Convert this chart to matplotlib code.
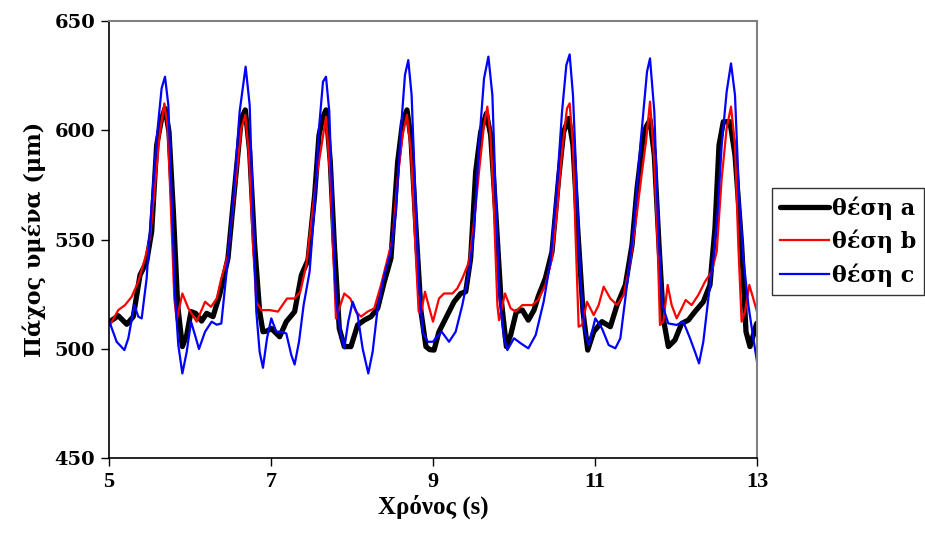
import matplotlib

matplotlib.use("Agg")
import matplotlib.pyplot as plt

# θέση a (black, thick)
time_a = [5.01, 5.115, 5.22, 5.30, 5.383, 5.465, 5.527, 5.589, 5.65, 5.692, 5.741, 5.795, 5.848, 5.906,
          5.96, 6.013, 6.07, 6.144, 6.206, 6.284, 6.366, 6.469, 6.551, 6.634, 6.683, 6.737, 6.798, 6.86,
          6.901, 6.951, 7.004, 7.107, 7.189, 7.292, 7.375, 7.457, 7.539, 7.593, 7.642, 7.679, 7.732,
          7.782, 7.843, 7.905, 7.987, 8.07, 8.152, 8.234, 8.317, 8.399, 8.481, 8.564, 8.625, 8.679,
          8.728, 8.79, 8.852, 8.913, 8.96, 9.013, 9.074, 9.177, 9.26, 9.342, 9.404, 9.465, 9.527, 9.589,
          9.659, 9.712, 9.774, 9.836, 9.906, 9.959, 10.029, 10.103, 10.177, 10.247, 10.30, 10.387,
          10.469, 10.551, 10.613, 10.675, 10.728, 10.786, 10.852, 10.91, 10.984, 11.086, 11.189,
          11.272, 11.375, 11.457, 11.519, 11.593, 11.63, 11.679, 11.732, 11.79, 11.843, 11.905, 11.987,
          12.07, 12.152, 12.234, 12.337, 12.419, 12.481, 12.531, 12.584, 12.666, 12.728, 12.81, 12.864,
          12.913, 12.996]
thick_a = [512.4, 515.1, 511.2, 514.7, 533.7, 539.8, 553.6, 593.2, 605.4, 610.0, 599.3, 562.7, 520.0,
           501.0, 506.3, 517.0, 516.2, 512.7, 516.2, 514.7, 524.6, 541.4, 573.4, 605.4, 609.3, 590.2,
           547.5, 517.0, 507.8, 508.1, 509.3, 505.5, 512.4, 517.0, 533.7, 540.6, 570.3, 597.8, 606.0,
           609.3, 585.6, 547.5, 509.3, 501.0, 501.0, 510.9, 513.1, 514.7, 518.5, 530.7, 541.4, 585.6,
           603.9, 609.3, 596.3, 555.1, 517.0, 501.0, 499.6, 499.4, 507.8, 515.4, 521.5, 525.3, 526.1,
           541.4, 581.0, 599.3, 607.7, 597.8, 562.7, 524.6, 501.0, 506.3, 517.0, 517.7, 513.1, 517.7,
           524.0, 532.2, 544.4, 578.0, 599.3, 605.4, 593.2, 555.1, 517.0, 499.4, 507.8, 512.4, 510.1,
           520.0, 529.2, 547.5, 573.4, 596.3, 601.5, 604.7, 588.7, 547.5, 513.9, 501.0, 504.0, 511.6,
           513.1, 517.0, 521.5, 529.2, 555.1, 593.2, 603.9, 603.9, 588.7, 547.5, 507.8, 501.0, 511.6]

# θέση b (red)
time_b = [5.013, 5.115, 5.198, 5.28, 5.362, 5.445, 5.507, 5.568, 5.63, 5.684, 5.725, 5.766, 5.807,
          5.836, 5.906, 5.98, 6.083, 6.186, 6.26, 6.33, 6.387, 6.469, 6.551, 6.634, 6.683, 6.728,
          6.778, 6.819, 6.881, 6.984, 7.086, 7.198, 7.292, 7.362, 7.436, 7.498, 7.56, 7.62, 7.679,
          7.732, 7.773, 7.802, 7.843, 7.905, 7.979, 8.049, 8.111, 8.193, 8.275, 8.358, 8.44, 8.502,
          8.564, 8.625, 8.679, 8.728, 8.782, 8.823, 8.852, 8.901, 8.955, 9.0, 9.074, 9.136, 9.239,
          9.3, 9.362, 9.445, 9.507, 9.568, 9.63, 9.671, 9.712, 9.753, 9.795, 9.815, 9.889, 9.959,
          10.021, 10.103, 10.227, 10.30, 10.387, 10.469, 10.531, 10.593, 10.654, 10.687, 10.728,
          10.757, 10.798, 10.84, 10.901, 10.984, 11.045, 11.107, 11.189, 11.272, 11.354, 11.436,
          11.519, 11.58, 11.63, 11.679, 11.732, 11.773, 11.802, 11.843, 11.897, 11.946, 12.008,
          12.07, 12.119, 12.193, 12.275, 12.358, 12.44, 12.502, 12.564, 12.625, 12.679, 12.728,
          12.769, 12.81, 12.852, 12.905, 12.954, 13.0]
thick_b = [510.9, 517.7, 520.0, 523.8, 530.7, 541.4, 550.5, 574.9, 599.3, 612.3, 600.9, 562.7, 523.0,
           513.1, 525.3, 518.5, 512.4, 521.5, 519.2, 523.0, 532.2, 542.9, 571.9, 600.9, 607.0, 588.7,
           547.5, 521.5, 517.7, 517.7, 517.0, 523.0, 523.0, 526.1, 538.3, 558.1, 578.0, 592.0, 606.2,
           578.0, 539.8, 513.9, 518.5, 525.3, 523.0, 517.0, 514.7, 517.0, 518.5, 529.2, 541.4, 550.5,
           578.0, 597.8, 607.0, 590.2, 547.5, 517.0, 516.2, 526.1, 518.5, 512.4, 523.0, 525.3, 525.3,
           527.6, 532.2, 539.8, 558.1, 581.0, 602.4, 610.8, 596.3, 562.7, 520.0, 513.1, 525.3, 518.5,
           517.0, 520.0, 520.0, 522.5, 529.2, 541.4, 562.7, 590.2, 610.0, 612.3, 593.2, 555.1, 510.1,
           510.9, 521.5, 515.4, 520.0, 528.4, 523.0, 520.0, 524.6, 539.8, 562.7, 581.0, 595.0, 613.1,
           585.6, 547.5, 510.9, 512.4, 529.2, 520.0, 513.9, 518.5, 522.3, 520.0, 524.6, 530.7, 535.3,
           544.4, 578.0, 600.9, 610.8, 593.2, 547.5, 512.4, 517.0, 529.2, 523.0, 517.0]

# θέση c (blue)
time_c = [5.013, 5.095, 5.19, 5.239, 5.313, 5.362, 5.404, 5.465, 5.527, 5.589, 5.65, 5.692, 5.733,
          5.774, 5.815, 5.856, 5.906, 5.96, 6.013, 6.062, 6.111, 6.186, 6.268, 6.33, 6.387, 6.469,
          6.539, 6.613, 6.687, 6.737, 6.778, 6.819, 6.86, 6.901, 6.951, 7.004, 7.066, 7.128, 7.189,
          7.251, 7.292, 7.346, 7.403, 7.477, 7.539, 7.593, 7.642, 7.679, 7.72, 7.761, 7.802, 7.856,
          7.905, 7.954, 8.008, 8.07, 8.131, 8.201, 8.255, 8.317, 8.399, 8.481, 8.543, 8.605, 8.654,
          8.695, 8.736, 8.782, 8.823, 8.872, 8.934, 9.0, 9.033, 9.107, 9.198, 9.28, 9.362, 9.445,
          9.507, 9.568, 9.63, 9.684, 9.733, 9.774, 9.823, 9.877, 9.918, 10.0, 10.083, 10.177, 10.268,
          10.366, 10.449, 10.531, 10.593, 10.646, 10.687, 10.728, 10.77, 10.819, 10.868, 10.922,
          11.004, 11.086, 11.169, 11.251, 11.313, 11.395, 11.477, 11.56, 11.642, 11.679, 11.732,
          11.781, 11.831, 11.905, 12.008, 12.09, 12.173, 12.234, 12.284, 12.337, 12.399, 12.461,
          12.514, 12.564, 12.625, 12.679, 12.728, 12.778, 12.831, 12.893, 12.954, 13.0]
thick_c = [511.6, 503.2, 499.4, 504.8, 520.0, 514.7, 513.9, 532.2, 565.8, 596.3, 619.2, 624.5, 611.5,
           570.3, 524.6, 501.7, 488.7, 498.6, 512.4, 506.3, 499.9, 507.8, 512.4, 511.0, 511.6, 541.4,
           570.3, 608.5, 629.1, 611.5, 562.7, 517.0, 498.6, 491.3, 504.8, 513.9, 507.8, 507.8, 507.0,
           497.1, 492.8, 503.2, 520.0, 535.3, 565.8, 600.9, 622.2, 624.5, 608.5, 562.7, 523.0, 507.8,
           500.2, 512.4, 521.5, 515.4, 500.2, 488.7, 498.6, 518.5, 533.7, 544.4, 562.7, 600.9, 625.3,
           632.1, 616.1, 570.3, 532.2, 507.8, 503.2, 503.2, 504.8, 507.8, 503.2, 507.8, 520.0, 535.3,
           553.6, 593.2, 623.7, 633.7, 616.1, 570.3, 523.0, 504.8, 499.4, 504.8, 502.5, 500.2, 506.3,
           521.5, 539.8, 574.9, 608.5, 629.8, 634.7, 616.1, 578.0, 532.2, 509.3, 501.7, 513.9, 509.3,
           501.7, 500.2, 504.8, 529.2, 555.1, 593.2, 626.8, 632.9, 608.5, 555.1, 520.0, 511.6, 510.9,
           512.4, 504.8, 498.6, 493.3, 503.2, 523.0, 541.4, 562.7, 593.2, 617.6, 630.6, 616.1, 570.3,
           541.4, 520.0, 504.8, 494.1]

labels = ["θέση a", "θέση b", "θέση c"]
x_ticks = [5, 7, 9, 11, 13]
y_ticks = [450, 500, 550, 600, 650]

fig = plt.figure(figsize=(9.25, 5.36), dpi=100)
ax = fig.add_axes([0.1178, 0.1455, 0.7006, 0.8153])

ax.plot(time_a, thick_a, color="black", linewidth=3.8, label=labels[0],
        solid_joinstyle="round", solid_capstyle="round")
ax.plot(time_b, thick_b, color="#ff0000", linewidth=1.6, label=labels[1], solid_joinstyle="round")
ax.plot(time_c, thick_c, color="#0000ff", linewidth=1.6, label=labels[2], solid_joinstyle="round")

ax.set_xlim(5, 13)
ax.set_ylim(450, 650)
ax.set_xticks(x_ticks)
ax.set_yticks(y_ticks)

serif_x = {"family": "Liberation Serif", "weight": "bold"}
serif_y = {"family": "DejaVu Serif", "weight": "bold"}
ax.set_xticklabels([str(v) for v in x_ticks], fontdict=serif_x, fontsize=16)
ax.set_yticklabels([str(v) for v in y_ticks], fontdict=serif_y, fontsize=14)
ax.tick_params(axis="both", direction="out", length=6, width=1, pad=4)

ax.set_xlabel("Χρόνος (s)", fontdict=serif_x, fontsize=18, labelpad=2)
ax.set_ylabel("Πάχος υμένα (μm)", fontdict=serif_y, fontsize=16, labelpad=6)

for side in ("left", "bottom"):
    ax.spines[side].set_color("black")
    ax.spines[side].set_linewidth(1.2)
for side in ("top", "right"):
    ax.spines[side].set_color("#808080")
    ax.spines[side].set_linewidth(1.5)

leg = fig.legend(
    loc="center left",
    bbox_to_anchor=(0.8346, 0.5494),
    frameon=True,
    fancybox=False,
    edgecolor="black",
    handlelength=2.2,
    handletextpad=0.15,
    borderpad=0.35,
    labelspacing=0.45,
    borderaxespad=0.0,
    prop={"family": "DejaVu Serif", "weight": "bold", "size": 16},
)
leg.get_frame().set_linewidth(1.0)

fig.savefig("out.png", dpi=100)
